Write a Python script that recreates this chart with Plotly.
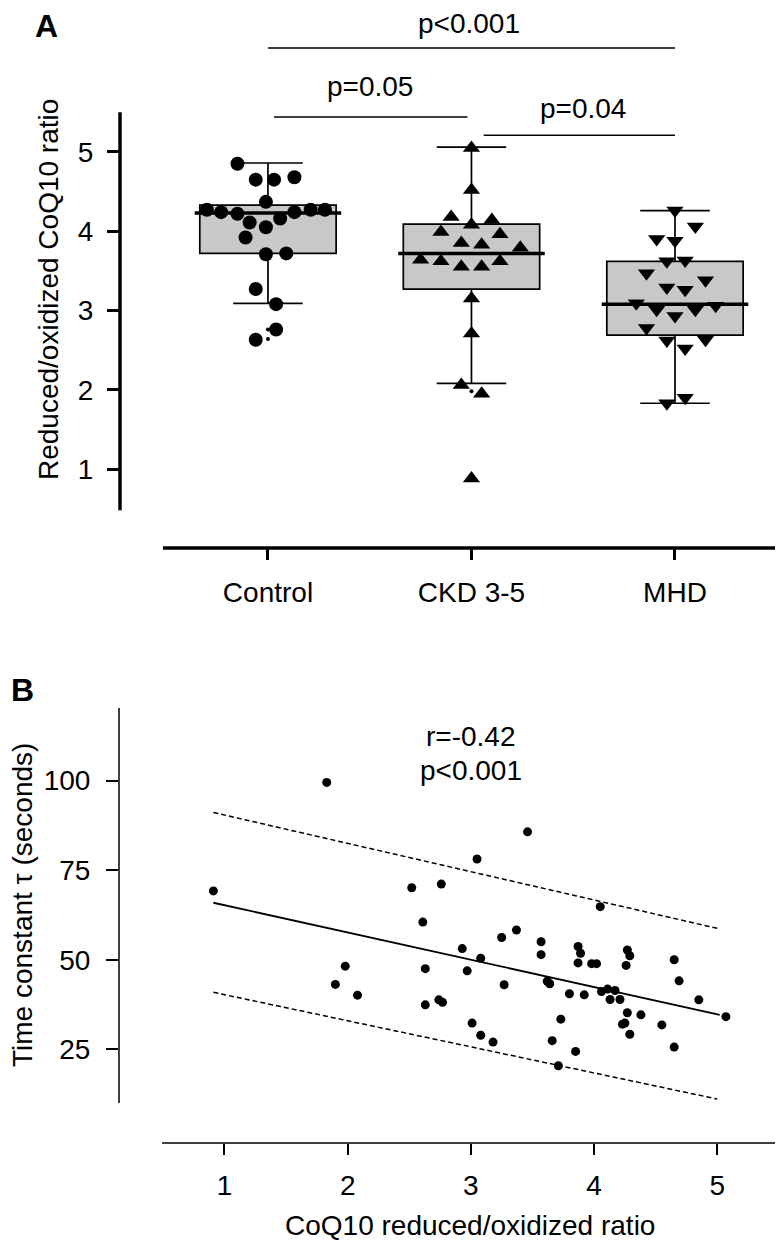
import plotly.graph_objects as go

# page body has an 8px margin: figure is sized to fit the 783x1248 window
OFF = 8
FW, FH = 783 - OFF, 1248 - 2 * OFF
FONT = "Liberation Sans, Arial, Helvetica, sans-serif"


def px(x):
    return (x - OFF) / FW


def py(y):
    return 1 - (y - OFF) / FH


# ---------------- Panel A data ----------------
groups = ["Control", "CKD 3-5", "MHD"]

control_vals = [4.85, 4.65, 4.65, 4.68, 4.37, 4.27, 4.24, 4.22, 4.24, 4.27, 4.27,
                4.11, 4.05, 4.16, 3.92, 3.71, 3.72, 3.27, 3.08, 2.76, 2.63]
control_jit = [-0.15, -0.06, 0.03, 0.13, -0.01, -0.30, -0.23, -0.15, 0.13, 0.21, 0.28,
               -0.09, -0.01, 0.06, -0.11, -0.01, 0.09, -0.06, 0.04, 0.04, -0.06]

ckd_vals = [5.05, 4.52, 4.18, 4.08, 4.14, 3.99, 3.96, 3.85, 3.83, 3.79,
            3.64, 3.62, 3.55, 3.55, 3.62, 3.15, 2.71, 2.06, 1.95, 0.88]
ckd_jit = [0.0, 0.0, -0.10, 0.0, 0.10, -0.15, 0.14, -0.05, 0.05, 0.24,
           -0.25, -0.15, -0.05, 0.05, 0.14, 0.0, 0.0, -0.05, 0.05, 0.0]

mhd_vals = [4.26, 4.06, 3.90, 3.88, 3.62, 3.63, 3.47, 3.38, 3.29, 3.26, 3.09,
            3.01, 2.93, 3.01, 3.06, 2.78, 2.62, 2.52, 2.63, 1.83, 1.90]
mhd_jit = [0.0, 0.10, -0.09, 0.0, -0.04, 0.05, -0.14, 0.15, -0.04, 0.05, -0.19,
           -0.09, 0.0, 0.10, 0.20, -0.14, -0.04, 0.05, 0.15, -0.04, 0.05]

box_lower = [3.09, 2.08, 1.83]
box_q1 = [3.72, 3.27, 2.69]
box_median = [4.23, 3.72, 3.08]
box_q3 = [4.33, 4.09, 3.62]
box_upper = [4.86, 5.06, 4.26]

outlier_group = [0, 0, 1]
outlier_vals = [2.76, 2.64, 1.98]

p_labels = ["p<0.001", "p=0.05", "p=0.04"]
p_from = [0.0, 0.03, 1.06]
p_to = [2.0, 0.98, 2.0]
p_line_y = [6.31, 5.44, 5.21]
p_text_x = [0.99, 0.50, 1.55]
p_text_y = [6.62, 5.83, 5.55]

# ---------------- Panel B data ----------------
coq_ratio = [1.83, 3.46, 3.05, 0.91, 2.52, 2.76, 4.05, 2.61, 3.37, 3.25,
             2.93, 3.08, 3.57, 3.57, 3.87, 3.89, 3.87, 3.98, 4.02, 4.27,
             4.29, 4.26, 4.65, 4.69, 4.85, 5.07, 1.98, 1.90, 2.08, 2.63,
             2.97, 3.27, 3.62, 3.64, 3.80, 3.92, 4.06, 4.11, 4.17, 4.13,
             4.21, 2.63, 2.74, 2.77, 4.27, 4.38, 3.73, 4.25, 4.23, 4.55,
             4.29, 3.01, 3.08, 3.18, 3.66, 3.85, 3.71, 4.65]
tau = [99.5, 85.7, 78.1, 69.2, 70.1, 71.1, 64.8, 60.5, 58.3, 56.2,
       53.1, 50.4, 55.0, 51.4, 53.7, 51.8, 49.1, 48.9, 48.9, 52.7,
       51.1, 48.4, 50.0, 44.1, 38.8, 34.1, 48.2, 43.1, 40.1, 47.5,
       46.9, 43.0, 44.0, 43.3, 40.5, 40.2, 41.1, 41.8, 41.4, 38.9,
       38.9, 37.4, 38.8, 38.1, 35.2, 34.6, 33.4, 32.3, 32.0, 31.8,
       29.2, 32.3, 28.9, 27.0, 27.4, 24.4, 20.4, 25.6]

fit_x = [0.91, 5.02]
fit_y = [65.9, 34.6]
upper_x = [0.91, 5.02]
upper_y = [91.1, 58.6]
lower_x = [0.91, 5.00]
lower_y = [40.9, 11.1]

r_text = "r=-0.42"
r_p_text = "p<0.001"

# ---------------- Figure ----------------
fig = go.Figure()

for i in range(3):
    fig.add_trace(go.Box(
        x=[i], q1=[box_q1[i]], median=[box_median[i]], q3=[box_q3[i]],
        lowerfence=[box_lower[i]], upperfence=[box_upper[i]],
        width=0.67, whiskerwidth=0.51, fillcolor="#c8c8c8",
        line=dict(color="black", width=1.7), boxpoints=False,
        xaxis="x", yaxis="y", showlegend=False, hoverinfo="skip"))
    fig.add_trace(go.Scatter(
        x=[i - 0.36, i + 0.36], y=[box_median[i], box_median[i]],
        mode="lines", line=dict(color="black", width=3.5),
        xaxis="x", yaxis="y", showlegend=False, hoverinfo="skip"))

fig.add_trace(go.Scatter(
    x=outlier_group, y=outlier_vals, mode="markers",
    marker=dict(color="black", size=4), xaxis="x", yaxis="y", showlegend=False))

sets = [(control_vals, control_jit, "circle", 14, 0),
        (ckd_vals, ckd_jit, "triangle-up", 15, 1),
        (mhd_vals, mhd_jit, "triangle-down", 15, 2)]
for vals, jit, sym, sz, gi in sets:
    fig.add_trace(go.Scatter(
        x=[gi + j for j in jit], y=vals, mode="markers",
        marker=dict(color="black", size=sz, symbol=sym, line=dict(width=0)),
        xaxis="x", yaxis="y", showlegend=False))

for k in range(3):
    fig.add_trace(go.Scatter(
        x=[p_from[k], p_to[k]], y=[p_line_y[k], p_line_y[k]], mode="lines",
        line=dict(color="black", width=1.6), xaxis="x", yaxis="y",
        showlegend=False, hoverinfo="skip"))

fig.add_trace(go.Scatter(x=upper_x, y=upper_y, mode="lines",
                         line=dict(color="black", width=1.5, dash="5px,3px"),
                         xaxis="x2", yaxis="y2", showlegend=False))
fig.add_trace(go.Scatter(x=lower_x, y=lower_y, mode="lines",
                         line=dict(color="black", width=1.5, dash="5px,3px"),
                         xaxis="x2", yaxis="y2", showlegend=False))
fig.add_trace(go.Scatter(x=fit_x, y=fit_y, mode="lines",
                         line=dict(color="black", width=1.8),
                         xaxis="x2", yaxis="y2", showlegend=False))
fig.add_trace(go.Scatter(x=coq_ratio, y=tau, mode="markers",
                         marker=dict(color="black", size=9),
                         xaxis="x2", yaxis="y2", showlegend=False))

FS = 28
tickfont = dict(family=FONT, size=FS, color="black")

fig.update_layout(
    width=FW, height=FH, margin=dict(l=0, r=0, t=0, b=0),
    paper_bgcolor="white", plot_bgcolor="white",
    font=dict(family=FONT, color="black"),
    xaxis=dict(domain=[px(120), px(780)], range=[-0.727, 2.516],
               tickvals=[0, 1, 2], ticktext=groups, ticks="outside",
               ticklen=11, tickwidth=3, tickcolor="black", tickfont=tickfont,
               showline=False, showgrid=False, zeroline=False, anchor="y",
               ticklabelstandoff=8),
    yaxis=dict(domain=[py(548), py(10)], range=[0.004, 6.79],
               tickvals=[1, 2, 3, 4, 5], ticks="outside", ticklen=12,
               tickwidth=3, tickcolor="black", tickfont=tickfont,
               showline=False, showgrid=False, zeroline=False, anchor="x",
               ticklabelstandoff=8),
    xaxis2=dict(domain=[px(119), px(780)], range=[0.144, 5.509],
                tickvals=[1, 2, 3, 4, 5], ticks="outside", ticklen=11,
                tickwidth=1.5, tickcolor="black", tickfont=tickfont,
                showline=False, showgrid=False, zeroline=False, anchor="y2",
                ticklabelstandoff=6),
    yaxis2=dict(domain=[py(1143), py(700)], range=[-1.17, 122.5],
                tickvals=[25, 50, 75, 100], ticks="outside", ticklen=12,
                tickwidth=1.5, tickcolor="black", tickfont=tickfont,
                showline=False, showgrid=False, zeroline=False, anchor="x2",
                ticklabelstandoff=10),
)

shapes = [
    dict(type="line", xref="x domain", yref="y", x0=0, x1=0, y0=0.48, y1=5.5,
         line=dict(color="black", width=3.5)),
    dict(type="line", xref="x", yref="y domain", x0=-0.516, x1=2.516, y0=0, y1=0,
         line=dict(color="black", width=3.5)),
    dict(type="line", xref="x2 domain", yref="y2", x0=0, x1=0, y0=10.0, y1=120.3,
         line=dict(color="black", width=1.5)),
    dict(type="line", xref="x2", yref="y2 domain", x0=0.493, x1=5.509, y0=0, y1=0,
         line=dict(color="black", width=1.5)),
]
fig.update_layout(shapes=shapes)


def txt(x, y, s, size=FS, angle=0, xref="paper", yref="paper"):
    return dict(x=x, y=y, xref=xref, yref=yref, text=s, showarrow=False,
                textangle=angle, xanchor="center", yanchor="middle",
                font=dict(family=FONT, size=size, color="black"))


ann = [txt(p_text_x[k], p_text_y[k], p_labels[k], xref="x", yref="y")
       for k in range(3)]
ann += [
    txt(px(46), py(26), "<b>A</b>", size=32),
    txt(px(22), py(690), "<b>B</b>", size=32),
    txt(px(48), py(290), "Reduced/oxidized CoQ10 ratio", angle=-90),
    txt(px(22), py(905), "Time constant \u03c4 (seconds)", angle=-90),
    txt(px(470), py(1225), "CoQ10 reduced/oxidized ratio"),
    txt(3.0, 112.2, r_text, xref="x2", yref="y2"),
    txt(3.0, 102.7, r_p_text, xref="x2", yref="y2"),
]
fig.update_layout(annotations=ann)

fig.write_html("out.html")
